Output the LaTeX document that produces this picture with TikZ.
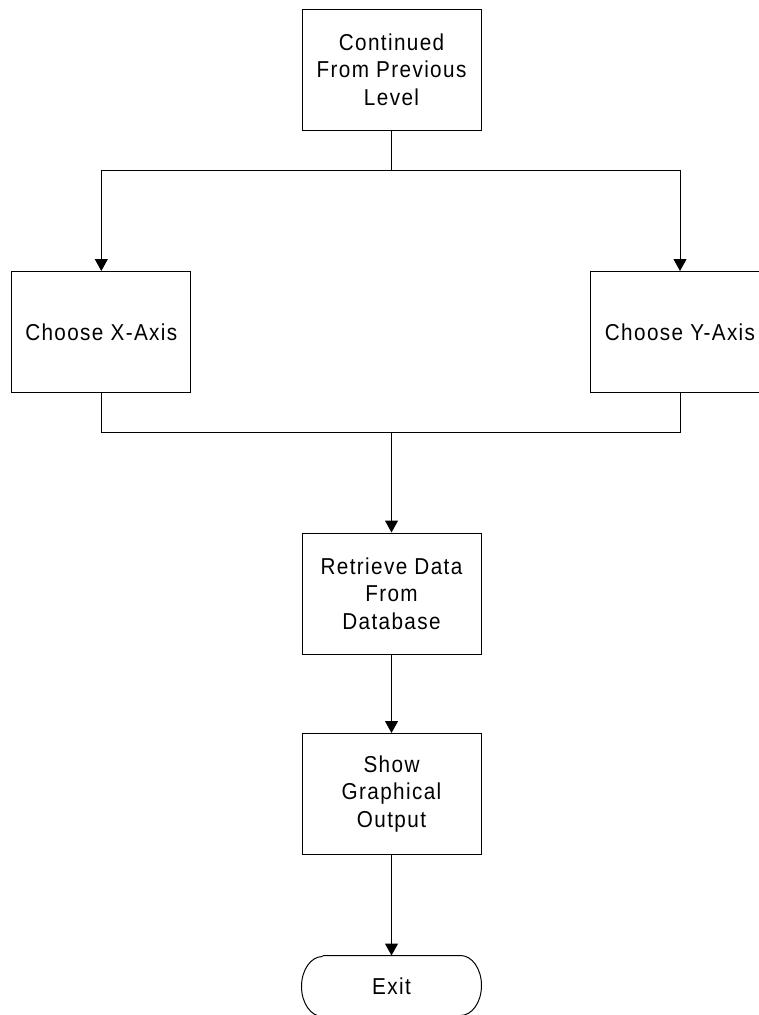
\documentclass[tikz,border=0pt]{standalone}
\usepackage{fontspec}
\setmainfont{Liberation Sans}[LetterSpace=6,FakeStretch=0.9]
\usetikzlibrary{arrows.meta}
\begin{document}
\begin{tikzpicture}[x=1pt,y=-1pt, line width=1pt,
  box/.style={draw, minimum width=179pt, minimum height=121pt, align=center, inner sep=0pt, font=\fontsize{23}{27.5}\selectfont},
  arr/.style={-{Triangle[length=12pt,width=13pt]}}]
\useasboundingbox (0,0) rectangle (759,1015);
\clip (0,0) rectangle (759,1015);
\node[box] (top) at (391.5,69.5) {Continued\\From Previous\\Level};
\node[box] (xa) at (101.3,332) {Choose X-Axis};
\node[box] (ya) at (680,332) {Choose Y-Axis};
\node[box] (ret) at (391.5,593.5) {Retrieve Data\\From\\Database};
\node[box] (show) at (391.5,794) {Show\\Graphical\\Output};
\node[minimum width=179pt, minimum height=60pt, inner sep=0pt, font=\fontsize{23}{27.5}\selectfont] (exit) at (391.5,986) {Exit};
\draw ([xshift=21pt]exit.north west) -- ([xshift=-21pt]exit.north east)
  arc[start angle=90, end angle=-90, x radius=21pt, y radius=30pt]
  -- ([xshift=21pt]exit.south west)
  arc[start angle=270, end angle=90, x radius=21pt, y radius=30pt];
\coordinate (split) at (391.5,170);
\coordinate (join) at (391.5,432);
\draw (top.south) -- (split);
\draw[arr] (split) -| (xa.north);
\draw[arr] (split) -| (ya.north);
\draw (xa.south) |- (join);
\draw (ya.south) |- (join);
\draw[arr] (join) -- (ret.north);
\draw[arr] (ret.south) -- (show.north);
\draw[arr] (show.south) -- (exit.north);
\end{tikzpicture}
\end{document}
